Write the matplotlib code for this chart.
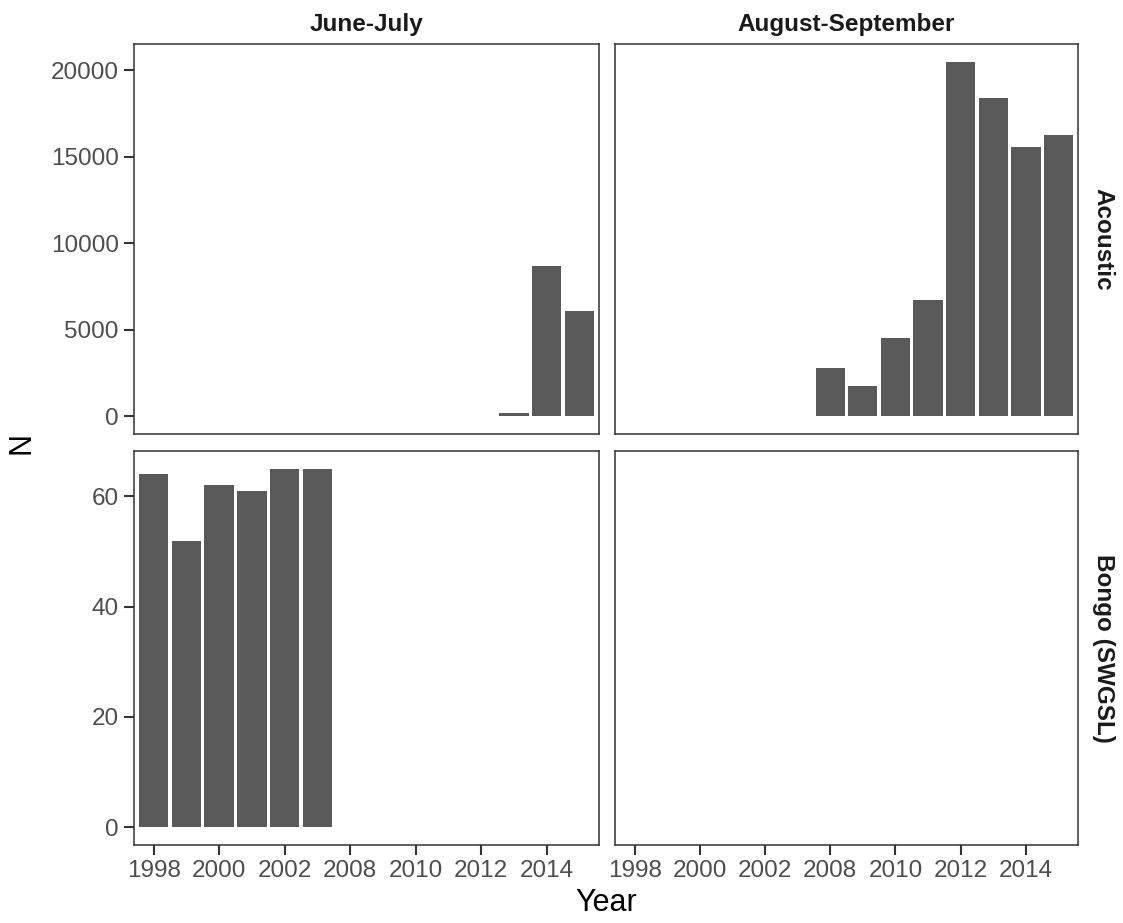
import numpy as np
import matplotlib.pyplot as plt

# discrete year axis (ggplot style)
years = ["1998", "1999", "2000", "2001", "2002", "2003",
         "2008", "2009", "2010", "2011", "2012", "2013", "2014", "2015"]
periods = ["June-July", "August-September"]
gears = ["Acoustic", "Bongo (SWGSL)"]

acoustic_jj_years = ["2013", "2014", "2015"]
acoustic_jj_n = [210, 8660, 6070]
acoustic_as_years = ["2008", "2009", "2010", "2011", "2012", "2013", "2014", "2015"]
acoustic_as_n = [2810, 1740, 4540, 6720, 20480, 18370, 15570, 16250]
bongo_jj_years = ["1998", "1999", "2000", "2001", "2002", "2003"]
bongo_jj_n = [64, 52, 62, 61, 65, 65]

data = {
    ("Acoustic", "June-July"): (acoustic_jj_years, acoustic_jj_n),
    ("Acoustic", "August-September"): (acoustic_as_years, acoustic_as_n),
    ("Bongo (SWGSL)", "June-July"): (bongo_jj_years, bongo_jj_n),
    ("Bongo (SWGSL)", "August-September"): ([], []),
}

plt.rcParams['font.family'] = ['Liberation Sans', 'DejaVu Sans']
W, H = 1123, 923
fig = plt.figure(figsize=(W / 100, H / 100), dpi=100)

xpos = {y: i for i, y in enumerate(years)}
col_x = [(134, 599), (615, 1078)]
row_y = [(44, 434), (451, 845)]
ylims = [(-1024, 21504), (-3.25, 68.25)]
yticks = [[0, 5000, 10000, 15000, 20000], [0, 20, 40, 60]]

for r, gear in enumerate(gears):
    for c, per in enumerate(periods):
        x0, x1 = col_x[c]
        y0, y1 = row_y[r]
        ax = fig.add_axes([x0 / W, 1 - y1 / H, (x1 - x0) / W, (y1 - y0) / H])
        yrs, vals = data[(gear, per)]
        if yrs:
            ax.bar([xpos[y] for y in yrs], vals, width=0.9, color="#595959", zorder=2)
        ax.set_xlim(-0.6, len(years) - 0.4)
        ax.set_ylim(*ylims[r])
        ax.set_yticks(yticks[r])
        ax.set_xticks(range(0, len(years), 2))
        ax.tick_params(labelsize=17.5, labelcolor="#4D4D4D", color="#333333",
                       width=1.5, length=7, pad=4)
        if r == 1:
            ax.set_xticklabels(years[::2])
        else:
            ax.set_xticklabels([])
            ax.tick_params(axis="x", length=0)
        if c == 1:
            ax.set_yticklabels([])
            ax.tick_params(axis="y", length=0)
        else:
            ax.set_yticklabels([str(v) for v in yticks[r]])
        for s in ax.spines.values():
            s.set_color("#333333")
            s.set_linewidth(1.1)
        if r == 0:
            ax.text(0.5, 1.02, per, transform=ax.transAxes, ha="center", va="bottom",
                    fontsize=17.5, fontweight="bold", color="#1A1A1A")
        if c == 1:
            ax.text(1.03, 0.5, gear, transform=ax.transAxes, ha="left", va="center",
                    rotation=-90, fontsize=17.5, fontweight="bold", color="#1A1A1A")

fig.text(606 / W, 1 - 903 / H, "Year", ha="center", va="center", fontsize=22)
fig.text(22 / W, 1 - 443 / H, "N", ha="center", va="center", rotation=90, fontsize=22)

fig.savefig("out.png", dpi=100, facecolor="white")
